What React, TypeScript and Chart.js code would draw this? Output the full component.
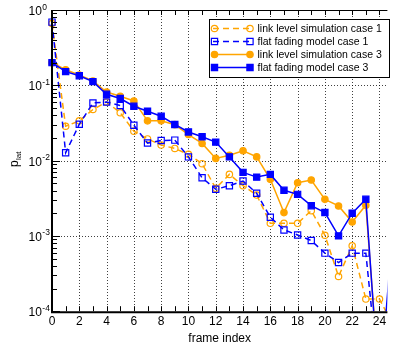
import React, { useEffect, useRef } from 'react';
import { Chart, registerables } from 'chart.js';

Chart.register(...registerables);

// ---- data ----
const frames = [0, 1, 2, 3, 4, 5, 6, 7, 8, 9, 10, 11, 12, 13, 14, 15, 16, 17, 18, 19, 20, 21, 22, 23, 24, 25];

const linkCase1 = [0.66, 0.0286, 0.0337, 0.0477, 0.060, 0.0432, 0.0246, 0.0194, 0.0161, 0.0145, 0.0121, 0.0091, 0.00428, 0.00656, 0.00464, 0.00349, 0.00147, 0.00147, 0.00147, 0.00216, 0.00102, 0.000289, 0.000738, 0.000145, 0.000145, 0.000065];
const flatCase1 = [0.69, 0.0127, 0.0304, 0.0583, 0.060, 0.0538, 0.0295, 0.0171, 0.0185, 0.0187, 0.0112, 0.00592, 0.00416, 0.00464, 0.00535, 0.00368, 0.00177, 0.0012, 0.00103, 0.000867, 0.00059, 0.000443, 0.00059, 0.00059, 0.00001, null];
const linkCase3 = [0.2, 0.161, 0.137, 0.114, 0.0815, 0.0715, 0.062, 0.0337, 0.0337, 0.030, 0.0222, 0.0169, 0.0107, 0.0118, 0.0135, 0.0112, 0.00564, 0.00204, 0.00508, 0.00552, 0.00306, 0.0025, 0.00153, 0.00255, 0.00001, null];
const flatCase3 = [0.2, 0.152, 0.134, 0.112, 0.076, 0.0667, 0.0527, 0.0453, 0.0388, 0.0302, 0.024, 0.0207, 0.0176, 0.0112, 0.00698, 0.00604, 0.00656, 0.00403, 0.00356, 0.00252, 0.00204, 0.001, 0.002, 0.00306, 0.000008, 0.0014];

const seriesLabels = [
  'link level simulation case 1',
  'flat fading model case 1',
  'link level simulation case 3',
  'flat fading model case 3',
];

const xTickValues = [0, 2, 4, 6, 8, 10, 12, 14, 16, 18, 20, 22, 24];
const xGridValues = [2, 4, 6, 8, 10, 12, 14, 16, 18, 20, 22, 24];
const yDecadeExponents = [0, -1, -2, -3, -4];
const yTickExponentLabels = ['0', '-1', '-2', '-3', '-4'];
const xTitle = 'frame index';
const yTitleMain = 'p';
const yTitleSub = 'lat';

const ORANGE = '#FFA500';
const BLUE = '#0000FF';
const FONT = '"Liberation Sans", Arial, sans-serif';

type Style = { color: string; dashed: boolean; marker: 'circle' | 'rect'; filled: boolean };
const styles: Style[] = [
  { color: ORANGE, dashed: true, marker: 'circle', filled: false },
  { color: BLUE, dashed: true, marker: 'rect', filled: false },
  { color: ORANGE, dashed: false, marker: 'circle', filled: true },
  { color: BLUE, dashed: false, marker: 'rect', filled: true },
];
const seriesData = [linkCase1, flatCase1, linkCase3, flatCase3];

const CIRCLE_R = 3.2;
const RECT_R = 4.4;

function drawMarker(ctx: CanvasRenderingContext2D, s: Style, x: number, y: number) {
  ctx.save();
  ctx.setLineDash([]);
  ctx.strokeStyle = s.color;
  ctx.fillStyle = s.filled ? s.color : 'rgba(0,0,0,0)';
  ctx.lineWidth = 1.2;
  ctx.beginPath();
  if (s.marker === 'circle') {
    ctx.arc(x, y, CIRCLE_R, 0, Math.PI * 2);
  } else {
    const h = RECT_R * Math.SQRT1_2;
    ctx.rect(x - h, y - h, 2 * h, 2 * h);
  }
  if (s.filled) ctx.fill();
  ctx.stroke();
  ctx.restore();
}

const decorPlugin = {
  id: 'decor',
  beforeDatasetsDraw(chart: any) {
    const { ctx, chartArea: a, scales } = chart;
    const x = scales.x;
    const y = scales.y;
    ctx.save();
    ctx.strokeStyle = 'rgba(0,0,0,0.75)';
    ctx.lineWidth = 1;
    ctx.setLineDash([1, 2]);
    for (const v of xGridValues) {
      const px = Math.round(x.getPixelForValue(v)) + 0.5;
      ctx.beginPath();
      ctx.moveTo(px, a.top);
      ctx.lineTo(px, a.bottom);
      ctx.stroke();
    }
    for (const e of [-1, -2, -3]) {
      const py = Math.round(y.getPixelForValue(Math.pow(10, e))) + 0.5;
      ctx.beginPath();
      ctx.moveTo(a.left, py);
      ctx.lineTo(a.right, py);
      ctx.stroke();
    }
    ctx.restore();
  },
  afterDatasetsDraw(chart: any) {
    const { ctx, chartArea: a, scales } = chart;
    const x = scales.x;
    const y = scales.y;
    ctx.save();
    ctx.setLineDash([]);
    ctx.strokeStyle = '#000';
    // ticks on x (bottom and top)
    ctx.lineWidth = 1;
    for (let i = 1; i <= 24; i++) {
      const px = Math.round(x.getPixelForValue(i)) + 0.5;
      ctx.beginPath();
      ctx.moveTo(px, a.bottom);
      ctx.lineTo(px, a.bottom - 5);
      ctx.moveTo(px, a.top);
      ctx.lineTo(px, a.top + 5);
      ctx.stroke();
    }
    // ticks on y
    for (let e = -4; e <= 0; e++) {
      const py = Math.round(y.getPixelForValue(Math.pow(10, e))) + 0.5;
      ctx.beginPath();
      ctx.moveTo(a.left, py);
      ctx.lineTo(a.left + 8, py);
      ctx.stroke();
      if (e < 0) {
        for (let k = 2; k <= 9; k++) {
          const pm = Math.round(y.getPixelForValue(k * Math.pow(10, e))) + 0.5;
          ctx.beginPath();
          ctx.moveTo(a.left, pm);
          ctx.lineTo(a.left + 5, pm);
          ctx.stroke();
        }
      }
    }
    // frame
    ctx.lineWidth = 1;
    ctx.beginPath();
    ctx.moveTo(a.left, a.top + 0.5);
    ctx.lineTo(a.right, a.top + 0.5);
    ctx.stroke();
    ctx.lineWidth = 2;
    ctx.beginPath();
    ctx.moveTo(a.left, a.top);
    ctx.lineTo(a.left, a.bottom + 1);
    ctx.lineTo(a.right, a.bottom + 1);
    ctx.stroke();

    // y tick labels
    ctx.fillStyle = '#000';
    ctx.textAlign = 'left';
    ctx.textBaseline = 'alphabetic';
    yDecadeExponents.forEach((e, i) => {
      const py = y.getPixelForValue(Math.pow(10, e));
      ctx.font = `12px ${FONT}`;
      ctx.fillText('10', 28.5, py + 5);
      const w = ctx.measureText('10').width;
      ctx.font = `8.5px ${FONT}`;
      ctx.fillText(yTickExponentLabels[i], 28.5 + w + 0.5, py - 0.5);
    });

    // y title
    ctx.save();
    ctx.translate(18, 167);
    ctx.rotate(-Math.PI / 2);
    ctx.font = `12px ${FONT}`;
    ctx.fillText(yTitleMain, 0, 0);
    const pw = ctx.measureText(yTitleMain).width;
    ctx.font = `8px ${FONT}`;
    ctx.fillText(yTitleSub, pw + 0.3, 2.5);
    ctx.restore();

    // legend
    const bx = 209.5, by = 19.5, bw = 180, bh = 58;
    ctx.fillStyle = '#fff';
    ctx.fillRect(bx, by, bw, bh);
    ctx.strokeStyle = '#000';
    ctx.lineWidth = 1;
    ctx.strokeRect(bx, by, bw, bh);
    const rows = [28.5, 41.5, 54.5, 67.5];
    styles.forEach((s, i) => {
      const ry = rows[i];
      ctx.save();
      ctx.strokeStyle = s.color;
      ctx.lineWidth = 1.5;
      ctx.setLineDash(s.dashed ? [6, 4] : []);
      ctx.beginPath();
      ctx.moveTo(213, ry);
      ctx.lineTo(251, ry);
      ctx.stroke();
      ctx.restore();
      drawMarker(ctx, s, 214.5, ry);
      drawMarker(ctx, s, 250, ry);
      ctx.fillStyle = '#000';
      ctx.font = `10.5px ${FONT}`;
      ctx.textBaseline = 'middle';
      ctx.fillText(seriesLabels[i], 257.5, ry + 0.5);
    });
    ctx.restore();
  },
};

export default function App() {
  const ref = useRef<HTMLCanvasElement | null>(null);
  useEffect(() => {
    if (!ref.current) return;
    const orders = [3, 2, 1, 0];
    const chart = new Chart(ref.current, {
      type: 'line',
      data: {
        labels: frames,
        datasets: seriesData.map((d, i) => {
          const s = styles[i];
          return {
            label: seriesLabels[i],
            data: frames.map((f, j) => ({ x: f, y: d[j] as any })),
            borderColor: s.color,
            backgroundColor: s.filled ? s.color : 'rgba(0,0,0,0)',
            borderWidth: 1.5,
            borderDash: s.dashed ? [6, 4] : [],
            pointStyle: s.marker,
            pointRadius: s.marker === 'rect' ? RECT_R : CIRCLE_R,
            pointBorderWidth: 1.2,
            pointBackgroundColor: s.filled ? s.color : 'rgba(0,0,0,0)',
            pointBorderColor: s.color,
            tension: 0,
            fill: false,
            order: orders[i],
            clip: { left: 8, top: 8, right: 0, bottom: 0 },
          } as any;
        }),
      },
      options: {
        animation: false,
        responsive: false,
        maintainAspectRatio: false,
        events: [],
        layout: { padding: { left: 52, top: 10, right: 0, bottom: 0 } },
        plugins: { legend: { display: false }, tooltip: { enabled: false } },
        scales: {
          x: {
            type: 'linear',
            min: 0,
            max: 24.58,
            grid: { display: false, drawTicks: false },
            border: { display: false },
            afterBuildTicks: (scale: any) => {
              scale.ticks = xTickValues.map((v) => ({ value: v }));
            },
            ticks: {
              color: '#000',
              font: { family: FONT, size: 12 },
              padding: 3,
              maxRotation: 0,
              autoSkip: false,
              callback: (v: any) => String(v),
            },
            title: {
              display: true,
              text: xTitle,
              color: '#000',
              font: { family: FONT, size: 12 },
              padding: { top: 0, bottom: 1 },
            },
          },
          y: {
            type: 'logarithmic',
            min: 1e-4,
            max: 1,
            grid: { display: false, drawTicks: false },
            border: { display: false },
            ticks: { display: false },
          },
        },
      } as any,
      plugins: [decorPlugin],
    });
    return () => chart.destroy();
  }, []);
  return (
    <div style={{ position: 'fixed', left: 0, top: 0, width: 393, height: 347, background: '#fff' }}>
      <canvas ref={ref} width={393} height={347} style={{ width: 393, height: 347, display: 'block' }} />
    </div>
  );
}
